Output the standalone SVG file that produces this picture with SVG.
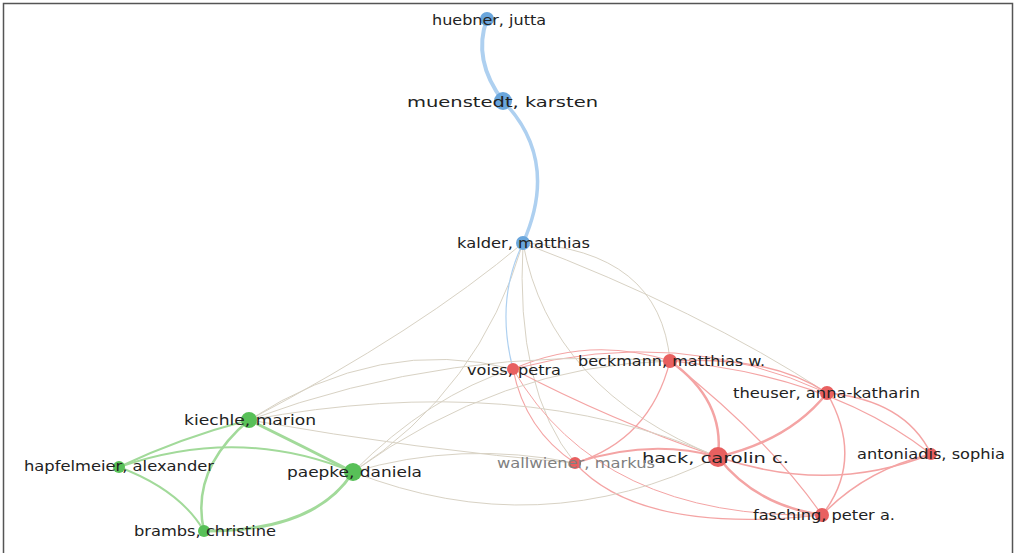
<svg xmlns="http://www.w3.org/2000/svg" width="1017" height="553" viewBox="0 0 1017 553">
<style>
.e{fill:none;stroke-linecap:round}
.b{stroke:#aed0f0}
.r{stroke:#f4a4a4}
.g{stroke:#a2da9a}
.x{stroke:#d8d2c4}
.t{font-family:"DejaVu Sans","Open Sans",sans-serif;fill:#222;font-size:14px}
.nb{fill:#6aa6dc}
.nr{fill:#e86060}
.ng{fill:#58c058}
</style>
<rect x="0" y="0" width="1017" height="553" fill="#fff"/>
<rect x="3.5" y="3.5" width="1009" height="560" fill="none" stroke="#555" stroke-width="1.5"/>
<g id="connectors">
<path class="e b" stroke-width="4" d="M487,19 Q472,60 503,101"/>
<path class="e b" stroke-width="3.5" d="M503,101 Q560,160 523,243"/>
<path class="e x" stroke-width="1" d="M523,243 Q420,330 249,420"/>
<path class="e x" stroke-width="1" d="M523,243 Q480,390 353,472"/>
<path class="e b" stroke-width="1.2" d="M523,243 Q495,300 513,369"/>
<path class="e x" stroke-width="1" d="M523,243 Q515,390 575,463"/>
<path class="e x" stroke-width="1" d="M523,243 Q550,390 718,457"/>
<path class="e x" stroke-width="1" d="M523,243 Q660,250 670,361"/>
<path class="e x" stroke-width="1" d="M523,243 Q700,310 827,393"/>
<path class="e r" stroke-width="1.2" d="M513,369 Q590,335 670,361"/>
<path class="e r" stroke-width="1" d="M513,369 Q680,325 827,393"/>
<path class="e r" stroke-width="1.2" d="M513,369 Q610,420 718,457"/>
<path class="e r" stroke-width="1.2" d="M513,369 Q525,430 575,463"/>
<path class="e r" stroke-width="1" d="M513,369 Q600,520 822,515"/>
<path class="e r" stroke-width="2.5" d="M670,361 Q725,400 718,457"/>
<path class="e r" stroke-width="1.5" d="M670,361 Q770,355 827,393"/>
<path class="e r" stroke-width="1.2" d="M670,361 Q650,440 575,463"/>
<path class="e r" stroke-width="1.2" d="M670,361 Q830,375 931,454"/>
<path class="e r" stroke-width="1.2" d="M670,361 Q770,440 822,515"/>
<path class="e r" stroke-width="2.5" d="M827,393 Q790,440 718,457"/>
<path class="e r" stroke-width="1.5" d="M827,393 Q905,400 931,454"/>
<path class="e r" stroke-width="1.5" d="M827,393 Q865,460 822,515"/>
<path class="e r" stroke-width="1.5" d="M718,457 Q830,495 931,454"/>
<path class="e r" stroke-width="2.5" d="M718,457 Q755,505 822,515"/>
<path class="e r" stroke-width="1.5" d="M931,454 Q865,470 822,515"/>
<path class="e r" stroke-width="2" d="M575,463 Q650,438 718,457"/>
<path class="e r" stroke-width="1.2" d="M575,463 Q640,535 822,515"/>
<path class="e g" stroke-width="2" d="M249,420 Q180,438 119,467"/>
<path class="e g" stroke-width="3" d="M249,420 Q300,445 353,472"/>
<path class="e g" stroke-width="2.5" d="M249,420 Q190,470 204,531"/>
<path class="e g" stroke-width="2" d="M119,467 Q240,425 353,472"/>
<path class="e g" stroke-width="2" d="M119,467 Q180,490 204,531"/>
<path class="e g" stroke-width="3" d="M353,472 Q315,532 204,531"/>
<path class="e x" stroke-width="1" d="M249,420 Q380,335 513,369"/>
<path class="e x" stroke-width="1" d="M249,420 Q450,345 670,361"/>
<path class="e x" stroke-width="1" d="M249,420 Q420,450 575,463"/>
<path class="e x" stroke-width="1" d="M249,420 Q520,370 718,457"/>
<path class="e x" stroke-width="1" d="M353,472 Q430,395 513,369"/>
<path class="e x" stroke-width="1" d="M353,472 Q500,365 670,361"/>
<path class="e x" stroke-width="1" d="M353,472 Q460,440 575,463"/>
<path class="e x" stroke-width="1" d="M353,472 Q540,545 718,457"/>
</g>
<g id="n-huebner"><circle class="nb" cx="487" cy="19" r="7"/><text class="t" x="432" y="25" textLength="114" lengthAdjust="spacingAndGlyphs">huebner, jutta</text></g>
<g id="n-muenstedt"><circle class="nb" cx="503" cy="101" r="9"/><text class="t" x="407" y="107" font-size="17" textLength="191" lengthAdjust="spacingAndGlyphs">muenstedt, karsten</text></g>
<g id="n-kalder"><circle class="nb" cx="523" cy="243" r="7"/><text class="t" x="457" y="248" textLength="133" lengthAdjust="spacingAndGlyphs">kalder, matthias</text></g>
<g id="n-voiss"><circle class="nr" cx="513" cy="369" r="6"/><text class="t" x="467" y="375" textLength="94" lengthAdjust="spacingAndGlyphs">voiss, petra</text></g>
<g id="n-beckmann"><circle class="nr" cx="670" cy="361" r="7"/><text class="t" x="578" y="366" textLength="187" lengthAdjust="spacingAndGlyphs">beckmann, matthias w.</text></g>
<g id="n-theuser"><circle class="nr" cx="827" cy="393" r="7"/><text class="t" x="733" y="398" textLength="187" lengthAdjust="spacingAndGlyphs">theuser, anna-katharin</text></g>
<g id="n-hack"><circle class="nr" cx="718" cy="457" r="10"/><text class="t" x="642" y="463" font-size="19" textLength="147" lengthAdjust="spacingAndGlyphs">hack, carolin c.</text></g>
<g id="n-antoniadis"><circle class="nr" cx="931" cy="454" r="6"/><text class="t" x="857" y="459" textLength="148" lengthAdjust="spacingAndGlyphs">antoniadis, sophia</text></g>
<g id="n-fasching"><circle class="nr" cx="822" cy="515" r="7"/><text class="t" x="753" y="520" textLength="142" lengthAdjust="spacingAndGlyphs">fasching, peter a.</text></g>
<g id="n-wallwiener"><circle class="nr" cx="575" cy="463" r="6"/><text class="t" x="497" y="468" style="fill:#808080" textLength="158" lengthAdjust="spacingAndGlyphs">wallwiener, markus</text></g>
<g id="n-kiechle"><circle class="ng" cx="249" cy="420" r="8"/><text class="t" x="184" y="425" font-size="16" textLength="132" lengthAdjust="spacingAndGlyphs">kiechle, marion</text></g>
<g id="n-hapfelmeier"><circle class="ng" cx="119" cy="467" r="6"/><text class="t" x="24" y="471" textLength="190" lengthAdjust="spacingAndGlyphs">hapfelmeier, alexander</text></g>
<g id="n-paepke"><circle class="ng" cx="353" cy="472" r="9"/><text class="t" x="287" y="477" font-size="16" textLength="135" lengthAdjust="spacingAndGlyphs">paepke, daniela</text></g>
<g id="n-brambs"><circle class="ng" cx="204" cy="531" r="6"/><text class="t" x="134" y="536" textLength="142" lengthAdjust="spacingAndGlyphs">brambs, christine</text></g>
</svg>
